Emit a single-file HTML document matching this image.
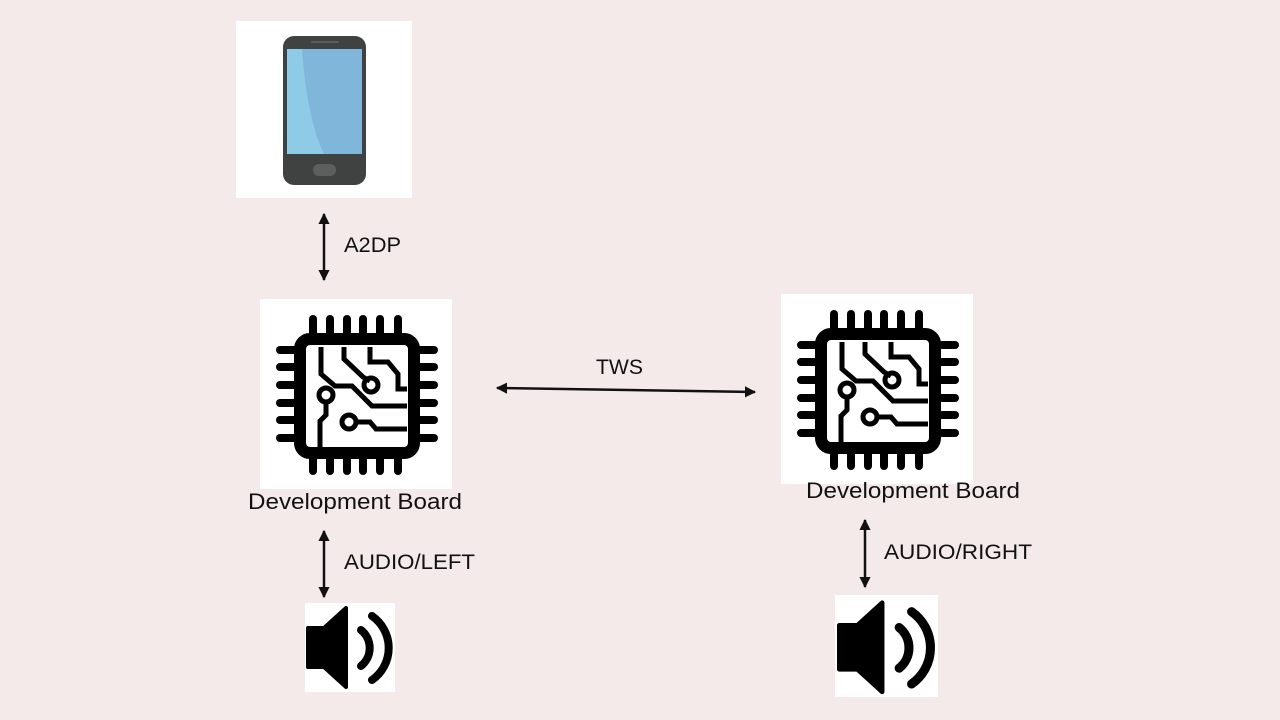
<!DOCTYPE html>
<html><head><meta charset="utf-8"><style>
html,body{margin:0;padding:0;background:#f3eae9;}
svg{display:block}
text{font-family:"Liberation Sans",sans-serif;fill:#111;}
</style></head><body>
<svg width="1280" height="720" viewBox="0 0 1280 720" xmlns="http://www.w3.org/2000/svg">
<defs>
<marker id="ah" viewBox="0 0 10 10" refX="9" refY="5" markerWidth="4.5" markerHeight="4.5" orient="auto-start-reverse"><path d="M0,0 L10,5 L0,10 z" fill="#111"/></marker>
<g id="chip">
  <rect x="0" y="0" width="192" height="190" fill="#fff"/>
  <g stroke="#000" stroke-width="8" stroke-linecap="round">
    <line x1="53" y1="20" x2="53" y2="40"/><line x1="70" y1="20" x2="70" y2="40"/><line x1="87" y1="20" x2="87" y2="40"/><line x1="103" y1="20" x2="103" y2="40"/><line x1="120" y1="20" x2="120" y2="40"/><line x1="138" y1="20" x2="138" y2="40"/>
    <line x1="53" y1="155" x2="53" y2="172"/><line x1="70" y1="155" x2="70" y2="172"/><line x1="87" y1="155" x2="87" y2="172"/><line x1="103" y1="155" x2="103" y2="172"/><line x1="120" y1="155" x2="120" y2="172"/><line x1="138" y1="155" x2="138" y2="172"/>
    <line x1="20" y1="51" x2="40" y2="51"/><line x1="20" y1="68" x2="40" y2="68"/><line x1="20" y1="86" x2="40" y2="86"/><line x1="20" y1="104" x2="40" y2="104"/><line x1="20" y1="121" x2="40" y2="121"/><line x1="20" y1="139" x2="40" y2="139"/>
    <line x1="155" y1="51" x2="174" y2="51"/><line x1="155" y1="68" x2="174" y2="68"/><line x1="155" y1="86" x2="174" y2="86"/><line x1="155" y1="104" x2="174" y2="104"/><line x1="155" y1="121" x2="174" y2="121"/><line x1="155" y1="139" x2="174" y2="139"/>
  </g>
  <rect x="40" y="40" width="114" height="114" rx="10" fill="none" stroke="#000" stroke-width="12"/>
  <g fill="none" stroke="#000" stroke-width="5">
    <polyline points="61,48 61,75 75,87 92,87 112,107 147,107"/>
    <polyline points="84,48 84,60 103,78 110,82"/>
    <polyline points="110,48 110,63 128,63 138,75 138,90 147,90"/>
    <circle cx="111" cy="86" r="7"/>
    <circle cx="66" cy="96" r="7"/>
    <polyline points="66,103 66,116 60,122 60,148"/>
    <circle cx="89" cy="123" r="7"/>
    <polyline points="96,123 110,123 116,130 147,130"/>
  </g>
</g>
<g id="spk">
  <path d="M2,25 L18,25 L40,5 L40,84 L18,64 L2,64 Z" fill="#000" stroke="#000" stroke-width="4" stroke-linejoin="round"/>
  <path d="M55,27 A23,23 0 0 1 55,63" fill="none" stroke="#000" stroke-width="8" stroke-linecap="round"/>
  <path d="M66,13 A39,39 0 0 1 66,77" fill="none" stroke="#000" stroke-width="8" stroke-linecap="round"/>
</g>
</defs>

<rect x="236" y="21" width="176" height="177" fill="#fff"/>
<rect x="283" y="36" width="83" height="149" rx="11" fill="#3f4241"/>
<rect x="287" y="49" width="75" height="105" fill="#7fb6da"/>
<path d="M287,49 L302,49 C305,90 312,130 324,154 L287,154 Z" fill="#8ecbe6"/>
<rect x="311" y="41" width="28" height="2" rx="1" fill="#5a5d5c"/>
<rect x="313" y="164" width="23" height="12" rx="6" fill="#5c5f5e"/>

<use href="#chip" x="260" y="299"/>
<use href="#chip" x="781" y="294"/>

<text x="248" y="509" font-size="22" textLength="214" lengthAdjust="spacingAndGlyphs">Development Board</text>
<text x="806" y="498" font-size="22" textLength="214" lengthAdjust="spacingAndGlyphs">Development Board</text>

<g stroke="#111" stroke-width="2.5">
<line x1="324" y1="214" x2="324" y2="280" marker-start="url(#ah)" marker-end="url(#ah)"/>
<line x1="497" y1="388" x2="755" y2="392" marker-start="url(#ah)" marker-end="url(#ah)"/>
<line x1="324" y1="531" x2="324" y2="597" marker-start="url(#ah)" marker-end="url(#ah)"/>
<line x1="865" y1="520" x2="865" y2="587" marker-start="url(#ah)" marker-end="url(#ah)"/>
</g>
<text x="344" y="252" font-size="21" textLength="57" lengthAdjust="spacingAndGlyphs">A2DP</text>
<text x="596" y="374" font-size="21" textLength="47" lengthAdjust="spacingAndGlyphs">TWS</text>
<text x="344" y="569" font-size="21" textLength="131" lengthAdjust="spacingAndGlyphs">AUDIO/LEFT</text>
<text x="884" y="559" font-size="21" textLength="148" lengthAdjust="spacingAndGlyphs">AUDIO/RIGHT</text>

<rect x="305" y="603" width="90" height="89" fill="#fff"/>
<use href="#spk" x="306" y="603"/>
<rect x="835" y="595" width="103" height="102" fill="#fff"/>
<g transform="translate(837,597) scale(1.13)"><use href="#spk"/></g>
</svg>
</body></html>
